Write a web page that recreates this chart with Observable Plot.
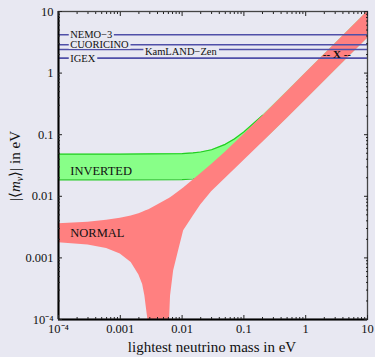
<!DOCTYPE html>
<html><head><meta charset="utf-8">
<script src="https://cdn.jsdelivr.net/npm/d3@7"></script>
<script src="https://cdn.jsdelivr.net/npm/@observablehq/plot@0.6"></script>
<style>
html,body{margin:0;padding:0;background:#e8e8f2;}
#chart{width:375px;height:357px;}
</style></head><body><div id="chart"></div>
<script>
// Normal ordering band (lightest mass m1, eV) -> |<m_nu>| lower / upper (eV)
const nhMass = [1e-4, 3e-4, 6e-4, 1e-3, 1.5e-3, 2e-3, 2.3e-3, 2.5e-3, 2.6e-3, 2.7e-3, 2.8e-3, 2.85e-3, 4e-3, 6.2e-3, 6.28e-3, 6.5e-3, 7.3e-3, 8.8e-3, 0.0106, 0.015, 0.02, 0.03, 0.05, 0.1, 0.2, 0.5, 1, 3, 10];
const nhLow  = [0.00176, 0.00162, 0.00142, 0.00116, 0.00084, 0.00053, 0.00037, 0.00024, 0.000175, 0.00013, 0.0001, 1e-5, 1e-5, 1e-5, 1.03e-4, 2.4e-4, 6.2e-4, 0.00132, 0.00275, 0.0047, 0.0072, 0.0118, 0.0195, 0.038, 0.075, 0.184, 0.366, 1.1, 3.66];
const nhHigh = [0.0036, 0.0038, 0.0041, 0.0044, 0.0048, 0.0052, 0.0055, 0.0057, 0.0058, 0.0059, 0.006, 0.006, 0.0072, 0.0092, 0.0093, 0.0095, 0.0103, 0.0118, 0.0137, 0.0183, 0.0232, 0.0328, 0.052, 0.101, 0.2, 0.5, 1, 3, 10];
// Inverted ordering band (lightest mass m3, eV)
const ihMass = [1e-4, 1e-3, 0.01, 0.015, 0.02, 0.03, 0.05, 0.07, 0.1, 0.2, 0.3, 0.5, 1, 10];
const ihLow  = [0.0185, 0.0185, 0.0187, 0.0191, 0.0197, 0.0213, 0.0258, 0.0315, 0.041, 0.0758, 0.112, 0.185, 0.369, 3.68];
const ihHigh = [0.0482, 0.0482, 0.0493, 0.0506, 0.0524, 0.057, 0.0697, 0.0852, 0.1112, 0.2058, 0.304, 0.5024, 1.001, 10];
// Experimental limits
const expNames = ["NEMO−3", "CUORICINO", "KamLAND−Zen", "IGEX"];
const expLimits = [4.19, 2.88, 2.42, 1.75];
const expLabelMass = [1.55e-4, 1.55e-4, 0.0025, 1.55e-4];
const expLabelValue = [4.22, 2.86, 2.2, 1.75];
// Region labels
const regionNames = ["INVERTED", "NORMAL"];
const regionMass = [1.55e-4, 1.55e-4];
const regionValue = [0.0262, 0.00252];
// Marker
const markerText = ["-- X --"];
const markerMass = [3.2];
const markerValue = [2.03];
// Ticks
const majorTicks = [1e-4, 1e-3, 1e-2, 1e-1, 1, 10];
const majorLabels = ["10⁻⁴", "0.001", "0.01", "0.1", "1", "10"];
const minorTicks = [2e-4,3e-4,4e-4,5e-4,6e-4,7e-4,8e-4,9e-4,
  2e-3,3e-3,4e-3,5e-3,6e-3,7e-3,8e-3,9e-3,
  0.02,0.03,0.04,0.05,0.06,0.07,0.08,0.09,
  0.2,0.3,0.4,0.5,0.6,0.7,0.8,0.9,
  2,3,4,5,6,7,8,9];

const BG = "#e8e8f2";
const FONT = "'Liberation Serif', 'Times New Roman', serif";
const EXP_FS = 10.5;

const nh = nhMass.map((m, i) => ({m, lo: nhLow[i], hi: nhHigh[i]}));
const ih = ihMass.map((m, i) => ({m, lo: ihLow[i], hi: ihHigh[i]}));
const exps = expNames.map((name, i) => ({name, limit: expLimits[i], lx: expLabelMass[i], ly: expLabelValue[i]}));
const regions = regionNames.map((name, i) => ({name, x: regionMass[i], y: regionValue[i]}));
const markers = markerText.map((t, i) => ({t, x: markerMass[i], y: markerValue[i]}));
const fmt = v => { const k = majorTicks.findIndex(t => Math.abs(Math.log10(v / t)) < 1e-6); return k >= 0 ? majorLabels[k] : ""; };

const tickStroke = "#222";
const chart = Plot.plot({
  width: 375, height: 357,
  marginLeft: 58, marginRight: 8, marginTop: 11, marginBottom: 38,
  style: {background: BG, fontFamily: FONT, color: "#111"},
  x: {type: "log", domain: [1e-4, 10], label: null},
  y: {type: "log", domain: [1e-4, 10], label: null},
  marks: [
    Plot.areaY(ih, {x: "m", y1: "lo", y2: "hi", fill: "#88ff88", clip: true}),
    Plot.line(ih, {x: "m", y: "hi", stroke: "#22cc22", strokeWidth: 1.2, filter: d => d.m <= 0.2, clip: true}),
    Plot.line(ih, {x: "m", y: "lo", stroke: "#22cc22", strokeWidth: 1.2, filter: d => d.m <= 0.05, clip: true}),
    Plot.areaY(nh, {x: "m", y1: "lo", y2: "hi", fill: "#ff8080", clip: true}),
    Plot.ruleY(exps, {y: "limit", stroke: "#4f4fa8", strokeWidth: 1.6}),
    Plot.text(exps, {x: "lx", y: "ly", text: "name", textAnchor: "start", fontSize: EXP_FS, fill: "#111"}),
    Plot.text(regions, {x: "x", y: "y", text: "name", textAnchor: "start", fontSize: 12.5, fill: "#111"}),
    Plot.text(markers, {x: "x", y: "y", text: "t", fontSize: 11, fill: "#111", fontWeight: "bold"}),
    Plot.frame({stroke: "#444", strokeWidth: 1.3}),
    Plot.ruleX([1e-4], {stroke: "#000", strokeWidth: 2}),
    Plot.ruleY([1e-4], {stroke: "#000", strokeWidth: 2}),
    // tick labels
    Plot.axisX(majorTicks, {anchor: "bottom", tickSize: 0, tickPadding: 5, tickFormat: fmt, fontSize: 12.5, label: null, fill: "#111"}),
    Plot.axisY(majorTicks, {anchor: "left", tickSize: 0, tickPadding: 5, tickFormat: fmt, fontSize: 12.5, label: null, fill: "#111"}),
    // inward ticks
    Plot.axisX(majorTicks, {anchor: "bottom", tickSize: -4, fill: "none", label: null, stroke: tickStroke}),
    Plot.axisX(minorTicks, {anchor: "bottom", tickSize: -2, fill: "none", label: null, stroke: tickStroke}),
    Plot.axisX(majorTicks, {anchor: "top", tickSize: -4, fill: "none", label: null, stroke: tickStroke}),
    Plot.axisX(minorTicks, {anchor: "top", tickSize: -2, fill: "none", label: null, stroke: tickStroke}),
    Plot.axisY(majorTicks, {anchor: "left", tickSize: -4, fill: "none", label: null, stroke: tickStroke}),
    Plot.axisY(minorTicks, {anchor: "left", tickSize: -2, fill: "none", label: null, stroke: tickStroke}),
    Plot.axisY(majorTicks, {anchor: "right", tickSize: -4, fill: "none", label: null, stroke: tickStroke}),
    Plot.axisY(minorTicks, {anchor: "right", tickSize: -2, fill: "none", label: null, stroke: tickStroke})
  ]
});
document.getElementById("chart").append(chart);

// background boxes behind experiment labels (interrupting the limit lines)
const NS = "http://www.w3.org/2000/svg";
Array.from(chart.querySelectorAll("text"))
  .filter(t => expNames.includes(t.textContent))
  .forEach(t => {
    const b = t.getBBox();
    const base = b.y + b.height * (0.891 / 1.107);
    const r = document.createElementNS(NS, "rect");
    r.setAttribute("x", b.x - 1.5);
    r.setAttribute("width", b.width + 3);
    r.setAttribute("y", base - 0.7 * EXP_FS - 0.6);
    r.setAttribute("height", 0.7 * EXP_FS + 1.4);
    r.setAttribute("fill", BG);
    r.setAttribute("stroke", "none");
    const tr = t.getAttribute("transform");
    if (tr) r.setAttribute("transform", tr);
    t.parentNode.insertBefore(r, t);
  });

// axis titles
const svg = d3.select(chart);
svg.append("text")
  .attr("x", 212).attr("y", 352)
  .attr("text-anchor", "middle")
  .attr("font-family", FONT).attr("font-size", 15).attr("fill", "#111")
  .text("lightest neutrino mass in eV");
const yl = svg.append("text")
  .attr("transform", "translate(20,166) rotate(-90)")
  .attr("text-anchor", "middle")
  .attr("font-family", FONT).attr("font-size", 15).attr("fill", "#111");
yl.append("tspan").text("|⟨");
yl.append("tspan").attr("font-style", "italic").text("m");
yl.append("tspan").attr("font-style", "italic").attr("font-size", 10).attr("dy", 3).text("ν");
yl.append("tspan").attr("dy", -3).text("⟩| in eV");
</script>
</body></html>
